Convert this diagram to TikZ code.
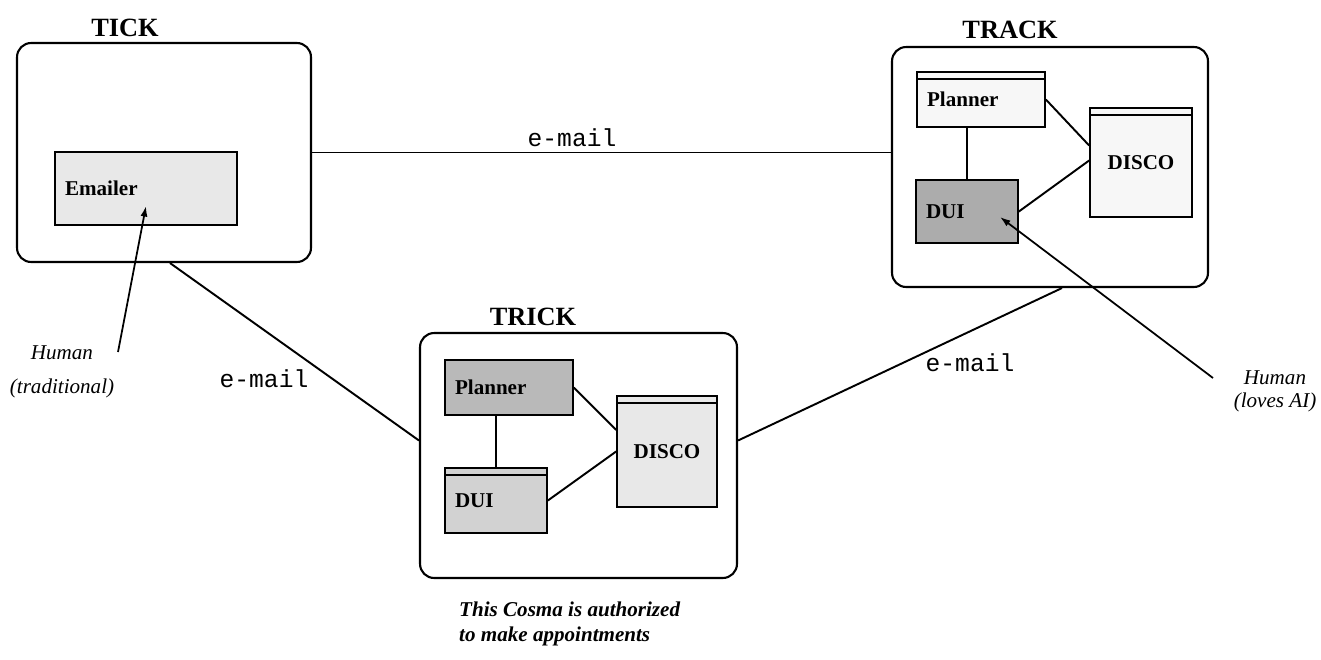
\documentclass[tikz,border=0pt]{standalone}
\usepackage{fontspec}
\setmainfont{Liberation Serif}
\setmonofont{Liberation Mono}
\usetikzlibrary{arrows.meta}
\begin{document}
\begin{tikzpicture}[x=0.02cm,y=-0.02cm]
	\tikzstyle{host}=[draw,line width=1.2pt,rounded corners=8pt]
	\tikzstyle{agent}=[draw,line width=1pt,font=\fontsize{12}{14}\selectfont\bfseries,inner ysep=0pt,inner xsep=0.2cm]
	\tikzstyle{titled}=[path picture={\draw ([yshift=-4pt]path picture bounding box.north west) -- ([yshift=-4pt]path picture bounding box.north east);}]
	\tikzstyle{hostname}=[font=\fontsize{15}{18}\selectfont\bfseries]
	\tikzstyle{mail}=[font=\ttfamily\fontsize{14}{16}\selectfont]
	\tikzstyle{human}=[font=\itshape\fontsize{12}{19}\selectfont,align=center]
	\tikzstyle{link}=[line width=1.1pt]
	\tikzstyle{pointer}=[line width=1pt,-{Latex[length=6pt,width=4pt]}]
	\useasboundingbox (0,0) rectangle (1321,659);
	\node[hostname] (tickname) at (125,28) {TICK};
	\node[hostname] (trackname) at (1010,30) {TRACK};
	\node[hostname] (trickname) at (533,317) {TRICK};
	\node[host,minimum width=5.88cm,minimum height=4.38cm] (tick) at (164,152.5) {};
	\node[host,minimum width=6.32cm,minimum height=4.8cm] (track) at (1050,167) {};
	\node[host,minimum width=6.34cm,minimum height=4.9cm] (trick) at (578.5,455.5) {};
	\node[agent,fill=gray!18,minimum height=1.46cm,text width=3.24cm,align=left] (emailer) at (146,188.5) {Emailer};
	\node[agent,titled,fill=gray!6,minimum height=1.1cm,text width=2.16cm,align=left] (trackplan) at (981,99.5) {Planner};
	\node[agent,fill=gray!65,minimum height=1.26cm,text width=1.64cm,align=left] (trackdui) at (967,211.5) {DUI};
	\node[agent,titled,fill=gray!6,minimum width=2.04cm,minimum height=2.18cm,inner xsep=0pt] (trackdisco) at (1141,162.5) {DISCO};
	\node[agent,fill=gray!55,minimum height=1.1cm,text width=2.16cm,align=left] (trickplan) at (509,387.5) {Planner};
	\node[agent,titled,fill=gray!35,minimum height=1.3cm,text width=1.64cm,align=left] (trickdui) at (496,500.5) {DUI};
	\node[agent,titled,fill=gray!18,minimum width=2cm,minimum height=2.22cm,inner xsep=0pt] (trickdisco) at (667,451.5) {DISCO};
	\draw[link] (trackplan.south -| trackdui.north) -- (trackdui.north);
	\draw[link] (trackplan.east) -- ([yshift=0.34cm]trackdisco.west);
	\draw[link] (trackdui.east) -- ([yshift=0.04cm]trackdisco.west);
	\draw[link] (trickplan.south -| trickdui.north) -- (trickdui.north);
	\draw[link] (trickplan.east) -- ([yshift=0.43cm]trickdisco.west);
	\draw[link] (trickdui.east) -- ([yshift=0cm]trickdisco.west);
	\draw[link] (tick.east) -- (tick.east -| track.west);
	\draw[link] ([xshift=0.12cm]tick.south) -- ([yshift=0.3cm]trick.west);
	\draw[link] ([xshift=0.24cm]track.south) -- ([yshift=0.3cm]trick.east);
	\node[mail] (mailtop) at (572,138) {e-mail};
	\node[mail] (mailleft) at (264,379) {e-mail};
	\node[mail] (mailright) at (970,363) {e-mail};
	\node[human] (hmtrad) at (62,372) {Human\\(traditional)};
	\node[human,font=\itshape\fontsize{12}{13}\selectfont] (hmai) at (1275,391) {Human\\(loves AI)};
	\coordinate (hmtradtip) at (118,352);
	\coordinate (hmaitip) at (1213,378);
	\draw[pointer] (hmtradtip) -- ([yshift=-0.35cm]emailer.center);
	\draw[pointer] (hmaitip) -- ([xshift=0.66cm,yshift=-0.11cm]trackdui.center);
	\node[font=\bfseries\itshape\fontsize{12}{14.7}\selectfont,align=left,anchor=west] (caption) at (453,624) {This Cosma is authorized\\to make appointments};
\end{tikzpicture}
\end{document}
